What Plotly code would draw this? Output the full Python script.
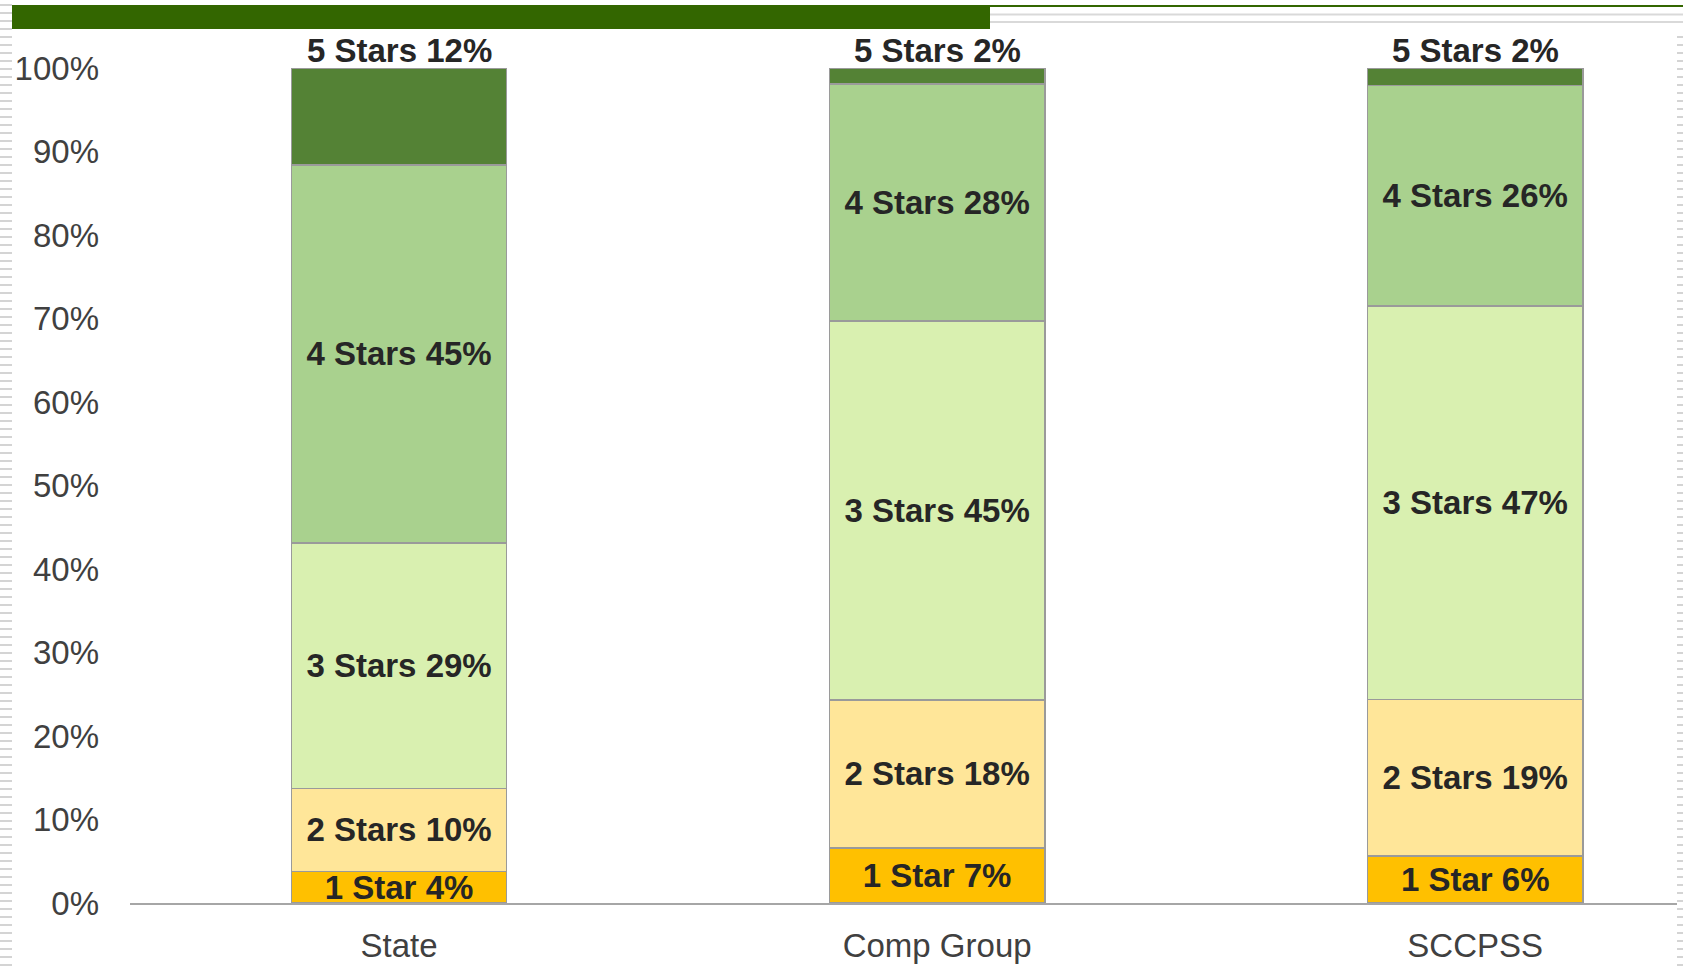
import plotly.graph_objects as go

# ---- data ----
categories = ["State", "Comp Group", "SCCPSS"]
series_names = ["1 Star", "2 Stars", "3 Stars", "4 Stars", "5 Stars"]
one_star = [3.8, 6.6, 5.6]
two_stars = [9.9, 17.7, 18.8]
three_stars = [29.4, 45.4, 47.1]
four_stars = [45.3, 28.4, 26.4]
five_stars = [11.6, 1.9, 2.1]
y_ticks = [0, 10, 20, 30, 40, 50, 60, 70, 80, 90, 100]
y_tick_labels = [f"{v}%" for v in y_ticks]

series_values = [one_star, two_stars, three_stars, four_stars, five_stars]
colors = ["#FFC000", "#FFE699", "#D9F0B0", "#A9D18E", "#548235"]

W, H = 1683, 968
L, R, T, B = 130, 1677, 68, 903

label_font = dict(family="Liberation Sans, Arial, sans-serif", size=33,
                  color="#262626", weight="bold")

fig = go.Figure()
n = len(series_names)
for i, (name, vals, col) in enumerate(zip(series_names, series_values, colors)):
    top = (i == n - 1)
    fig.add_trace(go.Bar(
        x=categories, y=vals, name=name,
        marker=dict(color=col, line=dict(color="#9a9a9a", width=1.5)),
        width=0.4,
        text=[name] * len(vals),
        texttemplate="" if top else "%{text} %{y:.0f}%",
        textposition="none" if top else "inside",
        insidetextanchor="middle",
        textangle=0,
        constraintext="none",
        cliponaxis=False,
        textfont=label_font,
        hoverinfo="skip",
    ))

# labels above the top segment
annotations = []
for j, cat in enumerate(categories):
    total = sum(s[j] for s in series_values)
    annotations.append(dict(
        x=cat, y=total, xref="x", yref="y",
        text=f"{series_names[-1]} {five_stars[j]:.0f}%",
        showarrow=False, yanchor="bottom", yshift=-3,
        font=label_font,
    ))

def px(xp):
    return (xp - L) / (R - L)

def py(yp):
    return (B - yp) / (B - T)

shapes = []
# header bar
shapes.append(dict(type="rect", xref="paper", yref="paper",
                   x0=px(12), x1=px(990), y0=py(29), y1=py(5),
                   fillcolor="#336600", line=dict(width=0), layer="above"))
# top thin lines
shapes.append(dict(type="line", xref="paper", yref="paper",
                   x0=px(990), x1=px(1683), y0=py(6), y1=py(6),
                   line=dict(color="#336600", width=2)))
for yy in (14.5, 22):
    shapes.append(dict(type="line", xref="paper", yref="paper",
                       x0=px(990), x1=px(1683), y0=py(yy), y1=py(yy),
                       line=dict(color="#d9d9d9", width=2)))
# left dashed strip
shapes.append(dict(type="line", xref="paper", yref="paper",
                   x0=px(6), x1=px(6), y0=py(4), y1=py(968),
                   line=dict(color="#d4d4d4", width=12, dash="2px,6px")))
# right dashed strip
shapes.append(dict(type="line", xref="paper", yref="paper",
                   x0=px(1680), x1=px(1680), y0=py(36), y1=py(968),
                   line=dict(color="#d4d4d4", width=6, dash="2px,6px")))

fig.update_layout(
    barmode="stack",
    width=W, height=H,
    margin=dict(l=L, r=W - R, t=T, b=H - B, pad=0, autoexpand=False),
    paper_bgcolor="white", plot_bgcolor="white",
    showlegend=False,
    uniformtext=dict(minsize=33, mode="show"),
    font=dict(family="Liberation Sans, Arial, sans-serif", size=33, color="#404040"),
    shapes=shapes,
    annotations=annotations,
    xaxis=dict(
        range=[-0.5, 2.375],
        showline=True, linecolor="#a6a6a6", linewidth=2,
        showgrid=False, zeroline=False, ticks="",
        automargin=False,
        ticklabelstandoff=12,
        tickfont=dict(size=33, color="#404040"),
    ),
    yaxis=dict(
        range=[0, 100],
        tickmode="array", tickvals=y_ticks, ticktext=y_tick_labels,
        showline=False, showgrid=False, zeroline=False, ticks="",
        automargin=False,
        ticklabelstandoff=30,
        tickfont=dict(size=33, color="#404040"),
    ),
)

fig.write_html("out.html")
